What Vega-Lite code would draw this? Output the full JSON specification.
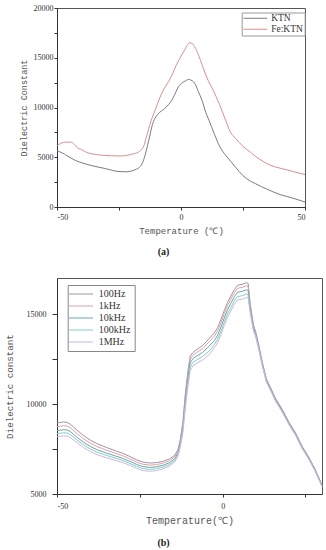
{
"$schema": "https://vega.github.io/schema/vega-lite/v6.json",
"autosize": {"type": "pad"},
"padding": {"left": 5, "top": 3, "right": 4, "bottom": 2},
"bounds": "flush",
"spacing": 71,
"background": "white",
"config": {
  "view": {"stroke": "#555", "strokeWidth": 1},
  "axis": {"grid": false, "domainColor": "#333", "tickColor": "#333", "labelColor": "#333", "titleColor": "#555", "labelFont": "Liberation Serif", "labelFontSize": 8, "titleFont": "Liberation Mono, DejaVu Sans Mono", "titleFontWeight": "normal"},
  "legend": {"labelFont": "Liberation Serif", "labelColor": "#333", "symbolStrokeWidth": 1, "symbolSize": 64}
},
"datasets": {
"a": [
{"t":-50,"v":5650,"s":"KTN"},{"t":-48,"v":5450,"s":"KTN"},{"t":-46,"v":5150,"s":"KTN"},{"t":-44,"v":4870,"s":"KTN"},{"t":-42,"v":4620,"s":"KTN"},{"t":-40,"v":4450,"s":"KTN"},{"t":-38,"v":4290,"s":"KTN"},{"t":-35,"v":4100,"s":"KTN"},{"t":-31,"v":3890,"s":"KTN"},{"t":-28,"v":3700,"s":"KTN"},{"t":-25,"v":3560,"s":"KTN"},{"t":-22,"v":3540,"s":"KTN"},{"t":-20,"v":3620,"s":"KTN"},{"t":-18,"v":3800,"s":"KTN"},{"t":-16.5,"v":4050,"s":"KTN"},{"t":-15.5,"v":4450,"s":"KTN"},{"t":-14.5,"v":5200,"s":"KTN"},{"t":-13,"v":6700,"s":"KTN"},{"t":-11.5,"v":8300,"s":"KTN"},{"t":-10,"v":9100,"s":"KTN"},{"t":-8.8,"v":9480,"s":"KTN"},{"t":-7,"v":9800,"s":"KTN"},{"t":-5,"v":10300,"s":"KTN"},{"t":-3.5,"v":10820,"s":"KTN"},{"t":-2,"v":11600,"s":"KTN"},{"t":-1,"v":12100,"s":"KTN"},{"t":0.5,"v":12480,"s":"KTN"},{"t":2,"v":12700,"s":"KTN"},{"t":3,"v":12830,"s":"KTN"},{"t":4,"v":12750,"s":"KTN"},{"t":5.5,"v":12450,"s":"KTN"},{"t":7,"v":11600,"s":"KTN"},{"t":8.5,"v":10700,"s":"KTN"},{"t":10,"v":9500,"s":"KTN"},{"t":11,"v":8900,"s":"KTN"},{"t":13.5,"v":7300,"s":"KTN"},{"t":15.5,"v":6130,"s":"KTN"},{"t":18,"v":5200,"s":"KTN"},{"t":20,"v":4600,"s":"KTN"},{"t":22,"v":4000,"s":"KTN"},{"t":25,"v":3150,"s":"KTN"},{"t":28,"v":2600,"s":"KTN"},{"t":30,"v":2350,"s":"KTN"},{"t":35,"v":1750,"s":"KTN"},{"t":40,"v":1250,"s":"KTN"},{"t":45,"v":900,"s":"KTN"},{"t":50,"v":500,"s":"KTN"},
{"t":-50,"v":6130,"s":"Fe:KTN"},{"t":-48.5,"v":6400,"s":"Fe:KTN"},{"t":-46.5,"v":6520,"s":"Fe:KTN"},{"t":-44.5,"v":6520,"s":"Fe:KTN"},{"t":-43,"v":6300,"s":"Fe:KTN"},{"t":-42,"v":6000,"s":"Fe:KTN"},{"t":-40,"v":5750,"s":"Fe:KTN"},{"t":-38,"v":5480,"s":"Fe:KTN"},{"t":-35,"v":5300,"s":"Fe:KTN"},{"t":-31,"v":5190,"s":"Fe:KTN"},{"t":-28,"v":5150,"s":"Fe:KTN"},{"t":-24.5,"v":5130,"s":"Fe:KTN"},{"t":-22,"v":5180,"s":"Fe:KTN"},{"t":-20,"v":5300,"s":"Fe:KTN"},{"t":-17.6,"v":5460,"s":"Fe:KTN"},{"t":-16,"v":5750,"s":"Fe:KTN"},{"t":-15,"v":6130,"s":"Fe:KTN"},{"t":-14,"v":7000,"s":"Fe:KTN"},{"t":-12,"v":8700,"s":"Fe:KTN"},{"t":-10.2,"v":9900,"s":"Fe:KTN"},{"t":-8.5,"v":11000,"s":"Fe:KTN"},{"t":-6.8,"v":11900,"s":"Fe:KTN"},{"t":-5,"v":12600,"s":"Fe:KTN"},{"t":-3.4,"v":13400,"s":"Fe:KTN"},{"t":-2,"v":14200,"s":"Fe:KTN"},{"t":-1,"v":14700,"s":"Fe:KTN"},{"t":0,"v":15150,"s":"Fe:KTN"},{"t":1.5,"v":15800,"s":"Fe:KTN"},{"t":2.5,"v":16250,"s":"Fe:KTN"},{"t":3.5,"v":16500,"s":"Fe:KTN"},{"t":4.5,"v":16450,"s":"Fe:KTN"},{"t":5.5,"v":16100,"s":"Fe:KTN"},{"t":7,"v":15300,"s":"Fe:KTN"},{"t":8.5,"v":14300,"s":"Fe:KTN"},{"t":9.4,"v":13670,"s":"Fe:KTN"},{"t":11,"v":12700,"s":"Fe:KTN"},{"t":12.8,"v":11830,"s":"Fe:KTN"},{"t":15.5,"v":10320,"s":"Fe:KTN"},{"t":18,"v":8700,"s":"Fe:KTN"},{"t":20,"v":7500,"s":"Fe:KTN"},{"t":22,"v":6900,"s":"Fe:KTN"},{"t":25,"v":6100,"s":"Fe:KTN"},{"t":28,"v":5500,"s":"Fe:KTN"},{"t":30,"v":5100,"s":"Fe:KTN"},{"t":33,"v":4600,"s":"Fe:KTN"},{"t":36,"v":4200,"s":"Fe:KTN"},{"t":40,"v":3900,"s":"Fe:KTN"},{"t":45,"v":3580,"s":"Fe:KTN"},{"t":50,"v":3260,"s":"Fe:KTN"}
],
"b": [
{"t":-50,"v":8950,"s":"100Hz"},{"t":-48,"v":9000,"s":"100Hz"},{"t":-47,"v":8980,"s":"100Hz"},{"t":-46,"v":8880,"s":"100Hz"},{"t":-45,"v":8720,"s":"100Hz"},{"t":-44,"v":8550,"s":"100Hz"},{"t":-42,"v":8250,"s":"100Hz"},{"t":-40,"v":8000,"s":"100Hz"},{"t":-38,"v":7800,"s":"100Hz"},{"t":-35,"v":7580,"s":"100Hz"},{"t":-32,"v":7380,"s":"100Hz"},{"t":-30,"v":7250,"s":"100Hz"},{"t":-28,"v":7080,"s":"100Hz"},{"t":-26,"v":6900,"s":"100Hz"},{"t":-24,"v":6770,"s":"100Hz"},{"t":-22,"v":6720,"s":"100Hz"},{"t":-20,"v":6740,"s":"100Hz"},{"t":-18,"v":6820,"s":"100Hz"},{"t":-16,"v":6950,"s":"100Hz"},{"t":-14.5,"v":7150,"s":"100Hz"},{"t":-13.5,"v":7450,"s":"100Hz"},{"t":-12.8,"v":8000,"s":"100Hz"},{"t":-12,"v":9000,"s":"100Hz"},{"t":-11.3,"v":10500,"s":"100Hz"},{"t":-10.5,"v":11800,"s":"100Hz"},{"t":-9.8,"v":12650,"s":"100Hz"},{"t":-9,"v":12850,"s":"100Hz"},{"t":-8,"v":13000,"s":"100Hz"},{"t":-6,"v":13250,"s":"100Hz"},{"t":-4,"v":13650,"s":"100Hz"},{"t":-2.5,"v":13950,"s":"100Hz"},{"t":-1.5,"v":14250,"s":"100Hz"},{"t":-0.5,"v":14700,"s":"100Hz"},{"t":0.5,"v":15200,"s":"100Hz"},{"t":1.5,"v":15650,"s":"100Hz"},{"t":2.5,"v":16000,"s":"100Hz"},{"t":3.5,"v":16350,"s":"100Hz"},{"t":4.5,"v":16600,"s":"100Hz"},{"t":6,"v":16650,"s":"100Hz"},{"t":7.2,"v":16740,"s":"100Hz"},{"t":7.7,"v":16700,"s":"100Hz"},{"t":8.3,"v":15600,"s":"100Hz"},{"t":9.3,"v":14400,"s":"100Hz"},{"t":10,"v":14000,"s":"100Hz"},{"t":11,"v":13200,"s":"100Hz"},{"t":12,"v":12300,"s":"100Hz"},{"t":13.2,"v":11400,"s":"100Hz"},{"t":14.5,"v":10900,"s":"100Hz"},{"t":16,"v":10300,"s":"100Hz"},{"t":18,"v":9700,"s":"100Hz"},{"t":20,"v":9000,"s":"100Hz"},{"t":22,"v":8400,"s":"100Hz"},{"t":24,"v":7650,"s":"100Hz"},{"t":26,"v":7050,"s":"100Hz"},{"t":28,"v":6350,"s":"100Hz"},{"t":30,"v":5500,"s":"100Hz"},
{"t":-50,"v":8740,"s":"1kHz"},{"t":-48,"v":8790,"s":"1kHz"},{"t":-47,"v":8775,"s":"1kHz"},{"t":-46,"v":8680,"s":"1kHz"},{"t":-45,"v":8525,"s":"1kHz"},{"t":-44,"v":8360,"s":"1kHz"},{"t":-42,"v":8070,"s":"1kHz"},{"t":-40,"v":7830,"s":"1kHz"},{"t":-38,"v":7640,"s":"1kHz"},{"t":-35,"v":7430,"s":"1kHz"},{"t":-32,"v":7240,"s":"1kHz"},{"t":-30,"v":7115,"s":"1kHz"},{"t":-28,"v":6950,"s":"1kHz"},{"t":-26,"v":6775,"s":"1kHz"},{"t":-24,"v":6650,"s":"1kHz"},{"t":-22,"v":6605,"s":"1kHz"},{"t":-20,"v":6630,"s":"1kHz"},{"t":-18,"v":6715,"s":"1kHz"},{"t":-16,"v":6850,"s":"1kHz"},{"t":-14.5,"v":7055,"s":"1kHz"},{"t":-13.5,"v":7360,"s":"1kHz"},{"t":-12.8,"v":7900,"s":"1kHz"},{"t":-12,"v":8850,"s":"1kHz"},{"t":-11.3,"v":10300,"s":"1kHz"},{"t":-10.5,"v":11600,"s":"1kHz"},{"t":-9.8,"v":12480,"s":"1kHz"},{"t":-9,"v":12700,"s":"1kHz"},{"t":-8,"v":12840,"s":"1kHz"},{"t":-6,"v":13080,"s":"1kHz"},{"t":-4,"v":13470,"s":"1kHz"},{"t":-2.5,"v":13765,"s":"1kHz"},{"t":-1.5,"v":14060,"s":"1kHz"},{"t":-0.5,"v":14510,"s":"1kHz"},{"t":0.5,"v":15010,"s":"1kHz"},{"t":1.5,"v":15470,"s":"1kHz"},{"t":2.5,"v":15825,"s":"1kHz"},{"t":3.5,"v":16180,"s":"1kHz"},{"t":4.5,"v":16430,"s":"1kHz"},{"t":6,"v":16480,"s":"1kHz"},{"t":7.2,"v":16570,"s":"1kHz"},{"t":7.7,"v":16530,"s":"1kHz"},{"t":8.3,"v":15480,"s":"1kHz"},{"t":9.3,"v":14320,"s":"1kHz"},{"t":10,"v":13930,"s":"1kHz"},{"t":11,"v":13140,"s":"1kHz"},{"t":12,"v":12250,"s":"1kHz"},{"t":13.2,"v":11355,"s":"1kHz"},{"t":14.5,"v":10860,"s":"1kHz"},{"t":16,"v":10260,"s":"1kHz"},{"t":18,"v":9660,"s":"1kHz"},{"t":20,"v":8960,"s":"1kHz"},{"t":22,"v":8365,"s":"1kHz"},{"t":24,"v":7615,"s":"1kHz"},{"t":26,"v":7020,"s":"1kHz"},{"t":28,"v":6320,"s":"1kHz"},{"t":30,"v":5475,"s":"1kHz"},
{"t":-50,"v":8520,"s":"10kHz"},{"t":-48,"v":8570,"s":"10kHz"},{"t":-47,"v":8560,"s":"10kHz"},{"t":-46,"v":8470,"s":"10kHz"},{"t":-45,"v":8320,"s":"10kHz"},{"t":-44,"v":8160,"s":"10kHz"},{"t":-42,"v":7880,"s":"10kHz"},{"t":-40,"v":7650,"s":"10kHz"},{"t":-38,"v":7470,"s":"10kHz"},{"t":-35,"v":7270,"s":"10kHz"},{"t":-32,"v":7090,"s":"10kHz"},{"t":-30,"v":6970,"s":"10kHz"},{"t":-28,"v":6815,"s":"10kHz"},{"t":-26,"v":6645,"s":"10kHz"},{"t":-24,"v":6520,"s":"10kHz"},{"t":-22,"v":6480,"s":"10kHz"},{"t":-20,"v":6510,"s":"10kHz"},{"t":-18,"v":6600,"s":"10kHz"},{"t":-16,"v":6740,"s":"10kHz"},{"t":-14.5,"v":6950,"s":"10kHz"},{"t":-13.5,"v":7260,"s":"10kHz"},{"t":-12.8,"v":7800,"s":"10kHz"},{"t":-12,"v":8700,"s":"10kHz"},{"t":-11.3,"v":10100,"s":"10kHz"},{"t":-10.5,"v":11380,"s":"10kHz"},{"t":-9.8,"v":12270,"s":"10kHz"},{"t":-9,"v":12520,"s":"10kHz"},{"t":-8,"v":12650,"s":"10kHz"},{"t":-6,"v":12870,"s":"10kHz"},{"t":-4,"v":13230,"s":"10kHz"},{"t":-2.5,"v":13520,"s":"10kHz"},{"t":-1.5,"v":13820,"s":"10kHz"},{"t":-0.5,"v":14270,"s":"10kHz"},{"t":0.5,"v":14780,"s":"10kHz"},{"t":1.5,"v":15240,"s":"10kHz"},{"t":2.5,"v":15600,"s":"10kHz"},{"t":3.5,"v":15950,"s":"10kHz"},{"t":4.5,"v":16210,"s":"10kHz"},{"t":6,"v":16260,"s":"10kHz"},{"t":7.2,"v":16350,"s":"10kHz"},{"t":7.7,"v":16310,"s":"10kHz"},{"t":8.3,"v":15340,"s":"10kHz"},{"t":9.3,"v":14230,"s":"10kHz"},{"t":10,"v":13860,"s":"10kHz"},{"t":11,"v":13080,"s":"10kHz"},{"t":12,"v":12200,"s":"10kHz"},{"t":13.2,"v":11310,"s":"10kHz"},{"t":14.5,"v":10815,"s":"10kHz"},{"t":16,"v":10220,"s":"10kHz"},{"t":18,"v":9620,"s":"10kHz"},{"t":20,"v":8925,"s":"10kHz"},{"t":22,"v":8330,"s":"10kHz"},{"t":24,"v":7585,"s":"10kHz"},{"t":26,"v":6990,"s":"10kHz"},{"t":28,"v":6290,"s":"10kHz"},{"t":30,"v":5450,"s":"10kHz"},
{"t":-50,"v":8350,"s":"100kHz"},{"t":-48,"v":8400,"s":"100kHz"},{"t":-47,"v":8390,"s":"100kHz"},{"t":-46,"v":8300,"s":"100kHz"},{"t":-45,"v":8155,"s":"100kHz"},{"t":-44,"v":8000,"s":"100kHz"},{"t":-42,"v":7730,"s":"100kHz"},{"t":-40,"v":7500,"s":"100kHz"},{"t":-38,"v":7330,"s":"100kHz"},{"t":-35,"v":7140,"s":"100kHz"},{"t":-32,"v":6970,"s":"100kHz"},{"t":-30,"v":6855,"s":"100kHz"},{"t":-28,"v":6700,"s":"100kHz"},{"t":-26,"v":6535,"s":"100kHz"},{"t":-24,"v":6410,"s":"100kHz"},{"t":-22,"v":6370,"s":"100kHz"},{"t":-20,"v":6405,"s":"100kHz"},{"t":-18,"v":6500,"s":"100kHz"},{"t":-16,"v":6645,"s":"100kHz"},{"t":-14.5,"v":6860,"s":"100kHz"},{"t":-13.5,"v":7170,"s":"100kHz"},{"t":-12.8,"v":7700,"s":"100kHz"},{"t":-12,"v":8550,"s":"100kHz"},{"t":-11.3,"v":9900,"s":"100kHz"},{"t":-10.5,"v":11150,"s":"100kHz"},{"t":-9.8,"v":12050,"s":"100kHz"},{"t":-9,"v":12300,"s":"100kHz"},{"t":-8,"v":12430,"s":"100kHz"},{"t":-6,"v":12650,"s":"100kHz"},{"t":-4,"v":12950,"s":"100kHz"},{"t":-2.5,"v":13300,"s":"100kHz"},{"t":-1.5,"v":13600,"s":"100kHz"},{"t":-0.5,"v":14040,"s":"100kHz"},{"t":0.5,"v":14550,"s":"100kHz"},{"t":1.5,"v":15010,"s":"100kHz"},{"t":2.5,"v":15370,"s":"100kHz"},{"t":3.5,"v":15720,"s":"100kHz"},{"t":4.5,"v":15970,"s":"100kHz"},{"t":6,"v":16020,"s":"100kHz"},{"t":7.2,"v":16110,"s":"100kHz"},{"t":7.7,"v":16080,"s":"100kHz"},{"t":8.3,"v":15200,"s":"100kHz"},{"t":9.3,"v":14140,"s":"100kHz"},{"t":10,"v":13790,"s":"100kHz"},{"t":11,"v":13020,"s":"100kHz"},{"t":12,"v":12150,"s":"100kHz"},{"t":13.2,"v":11265,"s":"100kHz"},{"t":14.5,"v":10775,"s":"100kHz"},{"t":16,"v":10180,"s":"100kHz"},{"t":18,"v":9585,"s":"100kHz"},{"t":20,"v":8890,"s":"100kHz"},{"t":22,"v":8295,"s":"100kHz"},{"t":24,"v":7550,"s":"100kHz"},{"t":26,"v":6960,"s":"100kHz"},{"t":28,"v":6265,"s":"100kHz"},{"t":30,"v":5425,"s":"100kHz"},
{"t":-50,"v":8180,"s":"1MHz"},{"t":-48,"v":8230,"s":"1MHz"},{"t":-47,"v":8220,"s":"1MHz"},{"t":-46,"v":8140,"s":"1MHz"},{"t":-45,"v":8000,"s":"1MHz"},{"t":-44,"v":7850,"s":"1MHz"},{"t":-42,"v":7580,"s":"1MHz"},{"t":-40,"v":7360,"s":"1MHz"},{"t":-38,"v":7190,"s":"1MHz"},{"t":-35,"v":7010,"s":"1MHz"},{"t":-32,"v":6850,"s":"1MHz"},{"t":-30,"v":6740,"s":"1MHz"},{"t":-28,"v":6590,"s":"1MHz"},{"t":-26,"v":6425,"s":"1MHz"},{"t":-24,"v":6300,"s":"1MHz"},{"t":-22,"v":6265,"s":"1MHz"},{"t":-20,"v":6300,"s":"1MHz"},{"t":-18,"v":6400,"s":"1MHz"},{"t":-16,"v":6550,"s":"1MHz"},{"t":-14.5,"v":6770,"s":"1MHz"},{"t":-13.5,"v":7090,"s":"1MHz"},{"t":-12.8,"v":7600,"s":"1MHz"},{"t":-12,"v":8400,"s":"1MHz"},{"t":-11.3,"v":9700,"s":"1MHz"},{"t":-10.5,"v":10950,"s":"1MHz"},{"t":-9.8,"v":11850,"s":"1MHz"},{"t":-9,"v":12110,"s":"1MHz"},{"t":-8,"v":12240,"s":"1MHz"},{"t":-6,"v":12450,"s":"1MHz"},{"t":-4,"v":12750,"s":"1MHz"},{"t":-2.5,"v":13120,"s":"1MHz"},{"t":-1.5,"v":13410,"s":"1MHz"},{"t":-0.5,"v":13850,"s":"1MHz"},{"t":0.5,"v":14360,"s":"1MHz"},{"t":1.5,"v":14820,"s":"1MHz"},{"t":2.5,"v":15180,"s":"1MHz"},{"t":3.5,"v":15530,"s":"1MHz"},{"t":4.5,"v":15780,"s":"1MHz"},{"t":6,"v":15830,"s":"1MHz"},{"t":7.2,"v":15920,"s":"1MHz"},{"t":7.7,"v":15900,"s":"1MHz"},{"t":8.3,"v":15080,"s":"1MHz"},{"t":9.3,"v":14060,"s":"1MHz"},{"t":10,"v":13720,"s":"1MHz"},{"t":11,"v":12960,"s":"1MHz"},{"t":12,"v":12100,"s":"1MHz"},{"t":13.2,"v":11220,"s":"1MHz"},{"t":14.5,"v":10735,"s":"1MHz"},{"t":16,"v":10145,"s":"1MHz"},{"t":18,"v":9550,"s":"1MHz"},{"t":20,"v":8855,"s":"1MHz"},{"t":22,"v":8265,"s":"1MHz"},{"t":24,"v":7525,"s":"1MHz"},{"t":26,"v":6935,"s":"1MHz"},{"t":28,"v":6245,"s":"1MHz"},{"t":30,"v":5405,"s":"1MHz"}
]
},
"vconcat": [
{
  "width": 248, "height": 199,
  "data": {"name": "a"},
  "mark": {"type": "line", "strokeWidth": 1, "interpolate": "monotone"},
  "encoding": {
    "x": {"field": "t", "type": "quantitative", "scale": {"domain": [-50, 50], "nice": false, "zero": false},
      "axis": {"title": "Temperature (℃)", "values": [-50, -25, 0, 25, 50], "labelExpr": "datum.value % 50 === 0 ? '' + datum.value : ''", "tickSize": 3, "labelPadding": 3, "titleFontSize": 9, "titlePadding": 5}},
    "y": {"field": "v", "type": "quantitative", "scale": {"domain": [0, 20000], "nice": false},
      "axis": {"title": "Dielectric Constant", "values": [0, 2500, 5000, 7500, 10000, 12500, 15000, 17500, 20000], "labelExpr": "datum.value % 5000 === 0 ? '' + datum.value : ''", "tickSize": 3, "labelPadding": 1, "titleFontSize": 8.5, "titlePadding": 4.5}},
    "color": {"field": "s", "type": "nominal", "scale": {"domain": ["KTN", "Fe:KTN"], "range": ["#7c7c7c", "#db8e8e"]},
      "legend": {"title": null, "orient": "none", "legendX": 184.7, "legendY": 4.5, "direction": "vertical", "strokeColor": "#999", "padding": 1, "symbolType": "M-1,0H4.925", "symbolSize": 64, "labelFontSize": 9.5, "labelOffset": 19, "rowPadding": 0}}
  },
  "title": {"text": "(a)", "orient": "bottom", "font": "Liberation Serif", "fontSize": 10, "fontWeight": "bold", "color": "#222", "dx": -17.5, "offset": 12}
},
{
  "width": 265, "height": 216,
  "data": {"name": "b"},
  "mark": {"type": "line", "strokeWidth": 1},
  "encoding": {
    "x": {"field": "t", "type": "quantitative", "scale": {"domain": [-50, 30], "nice": false, "zero": false},
      "axis": {"title": "Temperature(℃)", "values": [-50, -25, 0, 25], "labelExpr": "datum.value % 50 === 0 ? '' + datum.value : ''", "tickSize": 3, "labelPadding": 5, "titleFontSize": 10, "titlePadding": 5}},
    "y": {"field": "v", "type": "quantitative", "scale": {"domain": [5000, 17000], "nice": false, "zero": false},
      "axis": {"title": "Dielectric constant", "values": [5000, 7500, 10000, 12500, 15000], "labelExpr": "datum.value % 5000 === 0 ? '' + datum.value : ''", "tickSize": 5, "labelPadding": 6, "titleFontSize": 9.2, "titlePadding": 11.5}},
    "color": {"field": "s", "type": "nominal", "scale": {"domain": ["100Hz", "1kHz", "10kHz", "100kHz", "1MHz"], "range": ["#ab90a4", "#dca3a3", "#6ca5b0", "#82cfc6", "#cfb6df"]},
      "legend": {"title": null, "orient": "none", "legendX": 10.7, "legendY": 7, "direction": "vertical", "strokeColor": "#888", "padding": 4, "symbolType": "M-1.925,0H4.075", "symbolSize": 64, "labelFontSize": 10, "labelOffset": 17, "rowPadding": 2}}
  },
  "title": {"text": "(b)", "orient": "bottom", "font": "Liberation Serif", "fontSize": 10, "fontWeight": "bold", "color": "#222", "dx": -26, "offset": 13}
}
],
"resolve": {"scale": {"color": "independent"}, "legend": {"color": "independent"}}
}
